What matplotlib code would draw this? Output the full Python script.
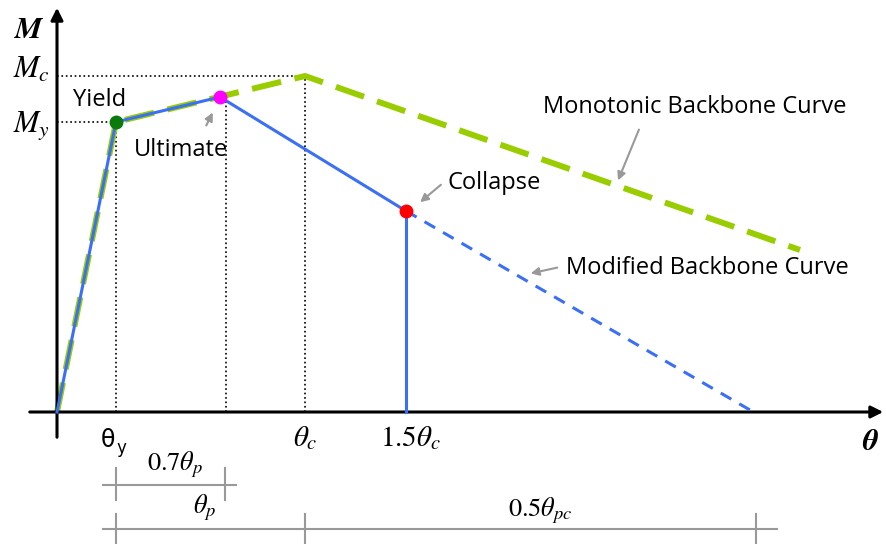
import matplotlib.pyplot as plt

plt.rcParams['mathtext.fontset'] = 'stix'

# backbone points (theta, M), origin at the axes crossing
mono_theta = [0, 59, 248, 743]
mono_M = [0, 290, 336, 162]
mod_theta = [0, 59, 163, 349]
mod_M = [0, 290, 315, 201]
tail_theta = [349, 693]
tail_M = [201, 2]

theta_y, theta_u, theta_c, theta_col = 59, 169, 248, 349
M_y, M_c = 290, 336

dim_row1 = [59, 168]
dim_row2 = [59, 248, 699]

fig = plt.figure(figsize=(8.86, 5.44), dpi=100)
ax = fig.add_axes([0, 0, 1, 1])
ax.set_xlim(-57, 829)
ax.set_ylim(-132, 412)
ax.axis('off')

blue = '#3b6ff5'
green = '#9acd00'
gray = '#999999'

# axes with arrows
ax.annotate('', xy=(829, 0), xytext=(-30, 0),
            arrowprops=dict(arrowstyle='-|>', color='black', lw=2.2, mutation_scale=18))
ax.annotate('', xy=(0, 407), xytext=(0, -28),
            arrowprops=dict(arrowstyle='-|>', color='black', lw=2.2, mutation_scale=18))

# dotted guides
ax.plot([0, theta_y], [M_y, M_y], ':', color='black', lw=1.2)
ax.plot([0, theta_c], [M_c, M_c], ':', color='black', lw=1.2)
for t, m in [(theta_y, M_y), (theta_u, 315), (theta_c, M_c)]:
    ax.plot([t, t], [0, m], ':', color='black', lw=1.2)

# curves
ax.plot(mono_theta, mono_M, '--', color=green, lw=4.3, dashes=(5, 2.3), zorder=2)
ax.plot(mod_theta, mod_M, '-', color=blue, lw=2.2, zorder=3)
ax.plot([theta_col, theta_col], [0, 201], '-', color=blue, lw=2.2, zorder=3)
ax.plot(tail_theta, tail_M, '--', color=blue, lw=2.2, dashes=(4, 3), zorder=3)

ax.plot(mod_theta[1], mod_M[1], 'o', color='#0a7a0a', ms=9, zorder=5)
ax.plot(mod_theta[2], mod_M[2], 'o', color='#ff00ff', ms=9, zorder=5)
ax.plot(mod_theta[3], mod_M[3], 'o', color='#ff0000', ms=9, zorder=5)

txt = dict(fontsize=17, family='Open Sans', color='black')
ax.text(43, 312, 'Yield', ha='center', va='center', **txt)
ax.text(124, 262, 'Ultimate', ha='center', va='center', **txt)
ax.text(437, 229, 'Collapse', ha='center', va='center', **txt)
ax.text(638, 305, 'Monotonic Backbone Curve', ha='center', va='center', **txt)
ax.text(650, 144, 'Modified Backbone Curve', ha='center', va='center', **txt)

arr = dict(arrowstyle='-|>', color=gray, lw=1.5, mutation_scale=12)
ax.annotate('', xy=(157, 302), xytext=(148, 284), arrowprops=arr)
ax.annotate('', xy=(361, 208), xytext=(386, 229), arrowprops=arr)
ax.annotate('', xy=(560, 229), xytext=(583, 285), arrowprops=arr)
ax.annotate('', xy=(471, 138), xytext=(503, 145), arrowprops=arr)

# axis labels
ax.text(-28, 382, r'$\boldsymbol{M}$', fontsize=22, ha='center', va='center')
ax.text(-25, 343, r'$M_c$', fontsize=22, ha='center', va='center')
ax.text(-25, 287, r'$M_y$', fontsize=22, ha='center', va='center')
ax.text(813, -30, r'$\boldsymbol{\theta}$', fontsize=22, ha='center', va='center')
ax.text(58, -28, 'θ', fontsize=17, family='DejaVu Sans', ha='right', va='center')
ax.text(59, -36, 'y', fontsize=12, family='DejaVu Sans', ha='left', va='center')
ax.text(theta_c, -26, r'$\theta_c$', fontsize=21, ha='center', va='center')
ax.text(theta_col + 5, -26, r'$1.5\theta_c$', fontsize=21, ha='center', va='center')

# dimension lines
y1, y2 = -73, -117
ax.plot([46, 179], [y1, y1], color=gray, lw=1.5)
for t in dim_row1:
    ax.plot([t, t], [y1 + 17, y1 - 15], color=gray, lw=1.5)
ax.text(118, y1 + 20, r'$0.7\theta_p$', fontsize=19, ha='center', va='center')

ax.plot([46, 720], [y2, y2], color=gray, lw=1.5)
for t in dim_row2:
    ax.plot([t, t], [y2 + 15, y2 - 15], color=gray, lw=1.5)
ax.text(148, y2 + 21, r'$\theta_p$', fontsize=19, ha='center', va='center')
ax.text(483, y2 + 18, r'$0.5\theta_{pc}$', fontsize=19, ha='center', va='center')

fig.savefig('out.png', dpi=100)
